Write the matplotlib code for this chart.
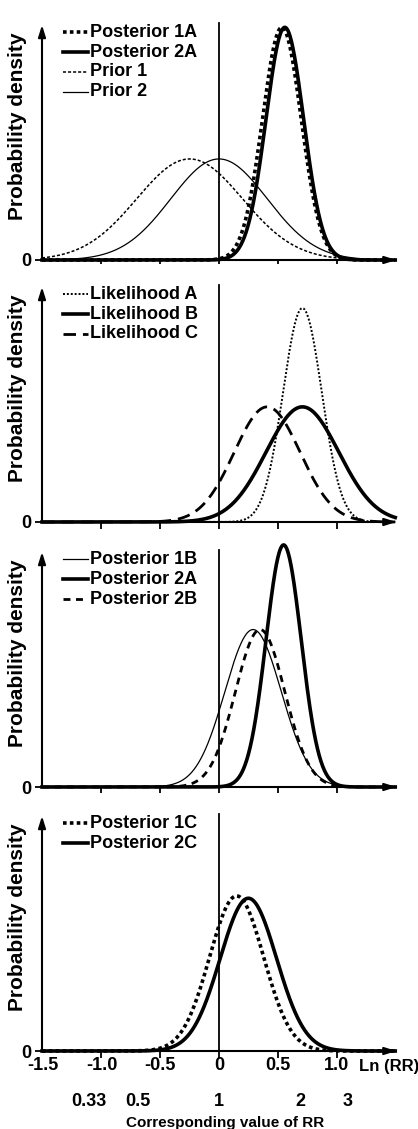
import numpy as np
import matplotlib
matplotlib.use("Agg")
import matplotlib.pyplot as plt

plt.rcParams['font.family'] = ['Liberation Sans', 'DejaVu Sans']
plt.rcParams['font.weight'] = 'bold'

# curve parameters (mean, sd on ln(RR) scale, peak height)
p1_names = ["Posterior 1A", "Posterior 2A", "Prior 1", "Prior 2"]
p1_mu = [0.535, 0.56, -0.25, 0.0]
p1_sd = [0.165, 0.16, 0.45, 0.41]
p1_peak = [0.99, 0.99, 0.43, 0.43]

p2_names = ["Likelihood A", "Likelihood B", "Likelihood C"]
p2_mu = [0.71, 0.71, 0.41]
p2_sd = [0.165, 0.31, 0.28]
p2_peak = [0.91, 0.49, 0.49]

p3_names = ["Posterior 1B", "Posterior 2A", "Posterior 2B"]
p3_mu = [0.29, 0.55, 0.35]
p3_sd = [0.24, 0.15, 0.21]
p3_peak = [0.67, 1.03, 0.67]

p4_names = ["Posterior 1C", "Posterior 2C"]
p4_mu = [0.15, 0.25]
p4_sd = [0.23, 0.24]
p4_peak = [0.66, 0.65]

ln_ticks = [-1.5, -1.0, -0.5, 0, 0.5, 1.0]
ln_labels = ["-1.5", "-1.0", "-0.5", "0", "0.5", "1.0"]
rr_values = [0.33, 0.5, 1, 2, 3]
rr_labels = ["0.33", "0.5", "1", "2", "3"]

# line styles
thick_dot = dict(color='k', lw=2.6, ls=(0, (1, 0.9)))
thick = dict(color='k', lw=2.6, ls='-')
thin_dot = dict(color='k', lw=1.1, ls=(0, (2, 1.3)))
thin = dict(color='k', lw=0.9, ls='-')
long_dash = dict(color='k', lw=2.0, ls=(0, (4.5, 2.5)))
mid_dash = dict(color='k', lw=2.0, ls=(0, (2.5, 2.0)))
fine_dot = dict(color='k', lw=1.4, ls=(0, (1, 1)))

panels = [
    (p1_names, p1_mu, p1_sd, p1_peak, [thick_dot, thick, thin_dot, thin], 260),
    (p2_names, p2_mu, p2_sd, p2_peak, [fine_dot, thick, long_dash], 522),
    (p3_names, p3_mu, p3_sd, p3_peak, [thin, thick, mid_dash], 787),
    (p4_names, p4_mu, p4_sd, p4_peak, [thick_dot, thick], 1051),
]

W, H = 418, 1129
fig = plt.figure(figsize=(W / 100, H / 100), dpi=100)
ppu = 117.5          # pixels per ln unit
x0_px = 219          # pixel of ln(RR)=0
left_px, right_px = 42, 400
unit_h = 235         # pixel height of y = 1
ytop = 1.1
xmin = (left_px - x0_px) / ppu
xmax = (right_px - x0_px) / ppu
x = np.linspace(xmin, 1.5, 800)

axes = []
for names, mu, sd, peak, styles, base in panels:
    ax = fig.add_axes([left_px / W, 1 - base / H, (right_px - left_px) / W, unit_h * ytop / H])
    ax.set_xlim(xmin, xmax)
    ax.set_ylim(0, ytop)
    for s in ['top', 'bottom', 'left', 'right']:
        ax.spines[s].set_visible(False)
    for m, s_, pk, st in zip(mu, sd, peak, styles):
        ax.plot(x, pk * np.exp(-(x - m) ** 2 / (2 * s_ ** 2)), clip_on=False, **st)
    # axes with arrows
    ax.annotate('', xy=(1.51, 0), xytext=(xmin, 0), annotation_clip=False,
                arrowprops=dict(arrowstyle='-|>,head_length=0.7,head_width=0.22',
                                lw=1.5, color='k', shrinkA=0, shrinkB=0))
    ax.annotate('', xy=(xmin, 1.0), xytext=(xmin, 0), annotation_clip=False,
                arrowprops=dict(arrowstyle='-|>,head_length=0.7,head_width=0.22',
                                lw=1.5, color='k', shrinkA=0, shrinkB=0))
    ax.plot([0, 0], [0, 1.01], color='k', lw=1.3)
    ax.set_xticks([-1.0, -0.5, 0, 0.5, 1.0])
    ax.set_xticklabels([])
    ax.set_yticks([0])
    ax.set_yticklabels(['0'], fontsize=13)
    ax.tick_params(axis='x', direction='out', length=5, width=1.3)
    ax.tick_params(axis='y', direction='out', length=5, width=1.3, pad=3)
    # legend
    ly0 = 0.97
    for i, (nm, st) in enumerate(zip(names, styles)):
        yy = ly0 - i * 0.085
        ax.plot([(63 - x0_px) / ppu, (88 - x0_px) / ppu], [yy, yy], clip_on=False, **st)
        ax.text((90 - x0_px) / ppu, yy, nm, fontsize=13, va='center', ha='left')
    ax.text((18 - left_px) / (right_px - left_px), 0.57 / ytop, 'Probability density',
            transform=ax.transAxes, rotation=90, fontsize=15, ha='center', va='center')
    axes.append(ax)

ax = axes[-1]
tr = ax.get_xaxis_transform()
ah = unit_h * ytop
for t, lab in zip(ln_ticks, ln_labels):
    ax.text(t, -15 / ah, lab, transform=tr, fontsize=13, ha='center', va='center')
ax.text(1.19, -15 / ah, 'Ln (RR)', transform=tr, fontsize=12, ha='left', va='center')
for v, lab in zip(rr_values, rr_labels):
    ax.text(np.log(v), -50 / ah, lab, transform=tr, fontsize=13, ha='center', va='center')
ax.text(0.05, -72 / ah, 'Corresponding value of RR', transform=tr, fontsize=11,
        ha='center', va='center')

fig.savefig('out.png', dpi=100)
